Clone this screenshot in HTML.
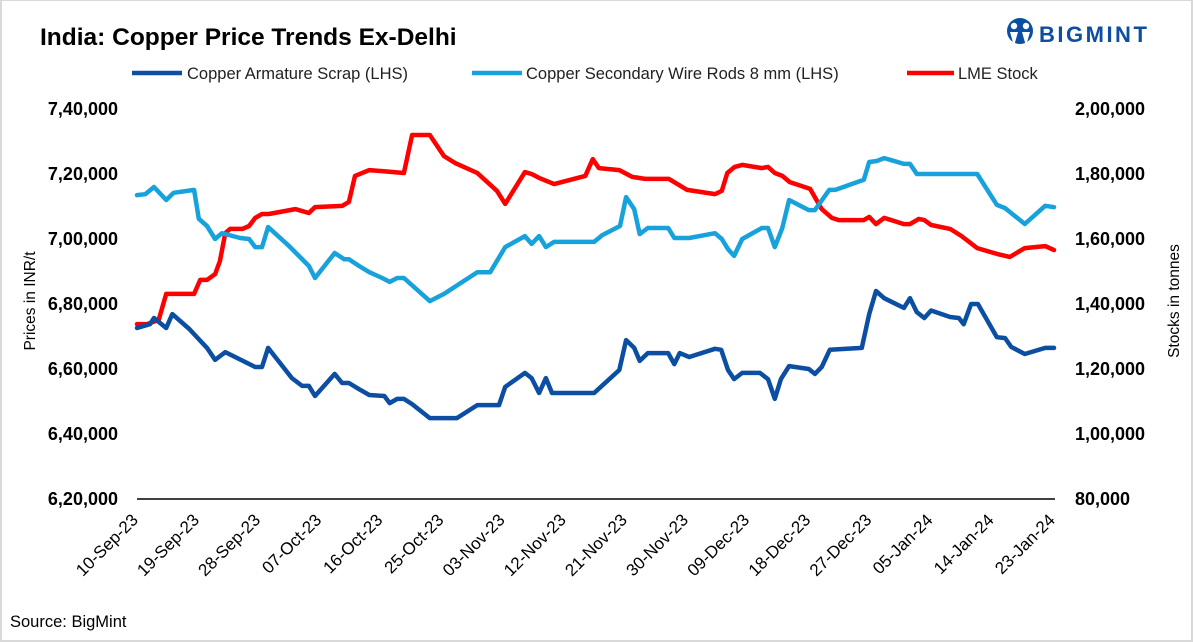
<!DOCTYPE html>
<html><head><meta charset="utf-8">
<style>
html,body{margin:0;padding:0;background:#fff;}
#wrap{position:relative;width:1193px;height:642px;overflow:hidden;box-sizing:border-box;border:2px solid #d9d9d9;border-top:1px solid #d9d9d9;font-family:"Liberation Sans",Calibri,sans-serif;}
svg{position:absolute;left:0;top:0;}
</style></head>
<body>
<div id="wrap">
<svg id="chart" width="1193" height="642">
  <text x="38" y="44" font-size="24.5" font-weight="bold" fill="#000" font-family="Liberation Sans, sans-serif">India: Copper Price Trends Ex-Delhi</text>
  <g>
    <circle cx="1018" cy="30" r="13" fill="#0B4EA2"/>
    <circle cx="1012" cy="25" r="3.2" fill="#fff"/>
    <circle cx="1024" cy="25" r="3.2" fill="#fff"/>
    <path d="M1008 31 L1012 45 L1016 31 Z M1020 31 L1024 45 L1028 31 Z" fill="#fff"/>
    <text x="1037" y="41" font-size="22" font-weight="bold" fill="#0B4EA2" letter-spacing="2.5" font-family="Liberation Sans, sans-serif">BIGMINT</text>
  </g>
  <g>
    <g>
      <line x1="130" y1="72" x2="180" y2="72" stroke="#0B4EA2" stroke-width="4.5"/>
      <text x="185" y="78" font-size="16.5" fill="#222">Copper Armature Scrap (LHS)</text>
    </g>
    <g>
      <line x1="470" y1="72" x2="520" y2="72" stroke="#17A2DC" stroke-width="4.5"/>
      <text x="524" y="78" font-size="16.5" fill="#222">Copper Secondary Wire Rods 8 mm (LHS)</text>
    </g>
    <g>
      <line x1="905" y1="72" x2="952" y2="72" stroke="#FF0000" stroke-width="4.5"/>
      <text x="956" y="78" font-size="16.5" fill="#222">LME Stock</text>
    </g>
  </g>
  <text transform="translate(33,300) rotate(-90)" text-anchor="middle" font-size="15.5" fill="#000">Prices in INR/t</text>
  <text transform="translate(1177,300) rotate(-90)" text-anchor="middle" font-size="15.5" fill="#000">Stocks in tonnes</text>
  <text x="8" y="626" font-size="16.5" fill="#000">Source: BigMint</text>
  <g id="axes"></g>
  <g id="series"></g>
</svg>
</div>
<script>
// Day offsets from 10-Sep-23 and values (thousands)
const armatureDays = [0,1.9,2.5,3.2,4.3,5.2,7.7,10.3,11.5,13,15,17.4,18.4,19.3,22.8,24.3,25.3,26.2,29.1,30.2,31.2,32.7,34.2,36.4,37.2,38.3,39.3,40.5,43.1,47.1,50.1,53.3,54.2,57.1,58.1,59.2,60.2,61.1,67.3,71,72,73.2,74,75.2,78.2,79.1,79.9,81.3,85.1,86,87,87.9,89.1,91.7,92.9,93.9,94.8,96,98.9,99.8,100.8,102,106.7,107.8,108.8,110,112.9,113.8,114.8,115.9,116.9,119.7,121,121.7,122.8,123.8,126.6,127.8,128.7,130.7,133.7,135];
const armatureVals = [672.6,673.8,675.7,674.5,672.6,676.9,672.3,666.5,662.8,665.2,663.1,660.6,660.6,666.5,657.2,654.8,654.8,651.7,658.5,655.7,655.7,653.8,652,651.7,649.5,650.8,650.8,649.2,644.9,644.9,648.9,648.9,654.5,658.8,657.2,652.6,657.2,652.6,652.6,659.7,668.9,666.5,662.5,664.9,664.9,661.5,664.9,663.7,666.2,665.9,659.7,656.9,658.8,658.8,656.9,650.8,656.9,660.9,660,658.5,660.6,665.9,666.5,676.9,684,681.8,678.8,681.8,677.5,675.7,678,676,675.7,673.8,680,680,669.8,669.5,666.8,664.6,666.5,666.5];
const wireDays = [0,1.2,2.5,4.3,5.4,8.4,9.1,10.3,11.5,12.5,15.2,16.5,17.4,18.4,19.3,22.4,25.3,26.2,29.1,30.5,31.2,32.7,34.2,36.1,37.2,38.3,39.3,43.1,45.2,50.1,52,54.2,57.1,58.1,59.2,60.2,61.4,67.3,68.5,71.1,72,73.2,74,75.2,78.2,79.1,81.3,85.1,86.1,87,87.9,89.1,92,92.9,93.9,95,96,98.9,99.8,101.9,102.8,107,107.8,108.9,110,112.9,113.8,114.8,123.7,126.6,127.8,130.7,133.7,135];
const wireVals = [713.5,713.8,716,712,714.2,715.1,706.2,704,700,701.8,700.3,700,697.5,697.5,703.7,697.8,691.7,688,695.7,693.8,693.8,691.7,689.8,688,686.8,688,688,680.9,683.1,689.8,689.8,697.5,700.9,698.5,700.9,697.5,699.1,699.1,701.2,704,712.9,709.2,701.5,703.4,703.4,700.3,700.3,701.8,700,696.9,694.8,700,703.4,703.4,697.5,703.4,712,708.9,708.9,715.1,715.1,718.2,723.7,724,724.9,723.1,723.1,720,720,710.5,709.5,704.6,710.2,709.8];
const lmeDays = [0,1.5,3.2,4.3,8.4,9.3,10.3,11.5,12.2,13,13.7,15.5,16.5,17.4,18.4,19.4,23.3,25.3,26.2,30.2,31.2,32.1,34.2,36.1,39.3,40.5,43.1,45.2,46.8,50.1,53,54.2,57.1,58.1,59.2,61.4,66,67.1,68,71,72.9,74.8,78.3,81,85.1,86.1,86.9,88,89.1,92,92.9,93.9,95,96.1,99.1,100.8,102.3,103.3,107,107.8,108.8,110,112.9,113.8,115.1,115.9,116.9,119.7,121.4,123.7,126.6,128.5,130.7,133.7,135];
const lmeVals = [133.8,133.8,135.1,143.1,143.1,147.4,147.4,149.2,153.2,161.8,163.1,163.1,164,166.5,167.7,167.7,169.2,168,169.8,170.2,171.4,179.4,181.2,180.9,180.3,192,192,185.5,183.4,180.3,174.8,170.8,180.6,180,178.8,176.9,179.4,184.6,181.8,181.2,179.1,178.5,178.5,175.1,173.8,174.8,180.3,182.2,182.8,181.8,182.2,180.3,179.4,177.5,175.4,169.2,166.5,165.8,165.8,166.8,164.6,166.5,164.6,164.6,166.2,165.8,164.3,163.1,160.9,157.2,155.4,154.5,157.2,157.8,156.6];
const xTickLabels = ["10-Sep-23","19-Sep-23","28-Sep-23","07-Oct-23","16-Oct-23","25-Oct-23","03-Nov-23","12-Nov-23","21-Nov-23","30-Nov-23","09-Dec-23","18-Dec-23","27-Dec-23","05-Jan-24","14-Jan-24","23-Jan-24"];
const leftTicks = [620,640,660,680,700,720,740];
const leftTickLabels = ["6,20,000","6,40,000","6,60,000","6,80,000","7,00,000","7,20,000","7,40,000"];
const rightTicks = [80,100,120,140,160,180,200];
const rightTickLabels = ["80,000","1,00,000","1,20,000","1,40,000","1,60,000","1,80,000","2,00,000"];

const NS = "http://www.w3.org/2000/svg";
const X0 = 135, X1 = 1052, Y0 = 498, Y1 = 108;
const xScale = d => X0 + d / 135 * (X1 - X0);
const yLeft = v => Y0 - (v - 620) / 120 * (Y0 - Y1);
const yRight = v => Y0 - (v - 80) / 120 * (Y0 - Y1);
const axes = document.getElementById('axes');
const series = document.getElementById('series');
function mk(tag, attrs, parent) {
  const e = document.createElementNS(NS, tag);
  for (const k in attrs) e.setAttribute(k, attrs[k]);
  parent.appendChild(e);
  return e;
}
const base = mk('line', {x1: X0, y1: Y0, x2: X1 + 1, y2: Y0, stroke: '#000', 'stroke-width': 1.5}, axes);


leftTicks.forEach((v, i) => {
  const t = mk('text', {x: 116, y: yLeft(v) + 6, 'text-anchor': 'end', 'font-size': 18, 'font-weight': 'bold', fill: '#000'}, axes);
  t.textContent = leftTickLabels[i];
  
  
});
rightTicks.forEach((v, i) => {
  const t = mk('text', {x: 1073, y: yRight(v) + 6, 'text-anchor': 'start', 'font-size': 18, 'font-weight': 'bold', fill: '#000'}, axes);
  t.textContent = rightTickLabels[i];
  
  
});
xTickLabels.forEach((lab, i) => {
  const x = xScale(i * 9) + 2;
  const t = mk('text', {transform: 'translate(' + x + ',520) rotate(-45)', 'text-anchor': 'end', 'font-size': 17, fill: '#000'}, axes);
  t.textContent = lab;
  
  
});
function drawLine(days, vals, yf, color, name) {
  const pts = days.map((d, i) => xScale(d).toFixed(1) + ',' + yf(vals[i]).toFixed(1)).join(' ');
  const p = mk('polyline', {points: pts, fill: 'none', stroke: color, 'stroke-width': 4.5, 'stroke-linejoin': 'round', 'stroke-linecap': 'round'}, series);
  
  
}
drawLine(lmeDays, lmeVals, yRight, '#FF0000', 'lme-stock-line');
drawLine(wireDays, wireVals, yLeft, '#17A2DC', 'wire-rods-line');
drawLine(armatureDays, armatureVals, yLeft, '#0B4EA2', 'armature-scrap-line');
</script>
</body></html>
